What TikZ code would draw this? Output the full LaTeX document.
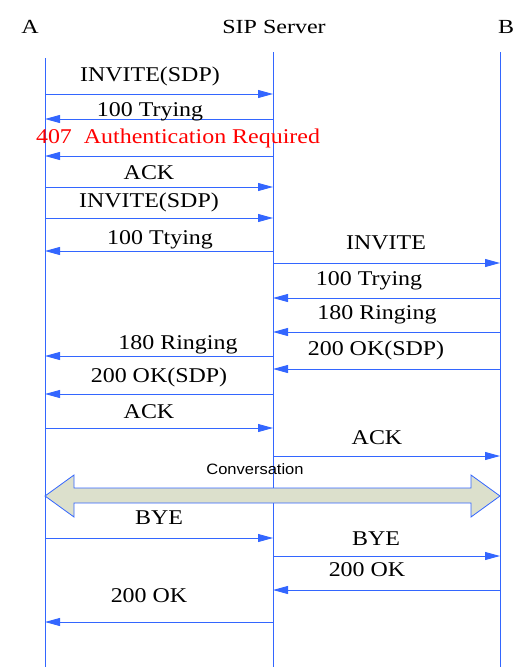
\documentclass[tikz,border=0pt]{standalone}
\usepackage{fontspec}
\setmainfont{Liberation Serif}
\newfontfamily\convfont{Liberation Sans}
\definecolor{sipblue}{RGB}{51,102,255}
\definecolor{sipred}{RGB}{255,0,0}
\definecolor{sipsage}{RGB}{220,224,204}
\usetikzlibrary{arrows.meta}

\begin{document}
\begin{tikzpicture}[x=1pt,y=-1pt,
  lifeline/.style={sipblue,line width=0.9pt},
  msg/.style={sipblue,line width=0.9pt,-{Triangle[length=15pt,width=8pt]}},
  lbl/.style={anchor=base,inner sep=0pt,font=\fontsize{21}{24}\selectfont,
              xscale=1.14,transform shape},
  hdr/.style={anchor=base,inner sep=0pt,font=\fontsize{20}{24}\selectfont,
              xscale=1.2,transform shape}]
  \useasboundingbox (0,0) rectangle (525,667);

  % Headers
  \node[hdr] (hA) at (30,33) {A};
  \node[hdr] (hS) at (274,33) {SIP Server};
  \node[hdr] (hB) at (506,33) {B};

  % Lifelines
  \coordinate (aTop) at (45,58);
  \coordinate (aBot) at (45,667);
  \coordinate (sTop) at (273,52);
  \coordinate (sBot) at (273,667);
  \coordinate (bTop) at (500,52);
  \coordinate (bBot) at (500,667);
  \draw[lifeline] (aTop) -- (aBot);
  \draw[lifeline] (sTop) -- (sBot);
  \draw[lifeline] (bTop) -- (bBot);

  % First INVITE, challenged by the server
  \draw[msg] (aTop |- 0,94) -- (sTop |- 0,94);
  \node[lbl] (m1) at (150,81) {INVITE(SDP)};
  \draw[msg] (sTop |- 0,119) -- (aTop |- 0,119);
  \node[lbl] (m2) at (150,116) {100 Trying};
  \draw[msg] (sTop |- 0,156) -- (aTop |- 0,156);
  \node[lbl,text=sipred] (m3) at (178,143) {407\ \ Authentication Required};
  \draw[msg] (aTop |- 0,187) -- (sTop |- 0,187);
  \node[lbl] (m4) at (149,179) {ACK};

  % Second INVITE, forwarded to B
  \draw[msg] (aTop |- 0,218) -- (sTop |- 0,218);
  \node[lbl] (m5) at (149,207) {INVITE(SDP)};
  \draw[msg] (sTop |- 0,251) -- (aTop |- 0,251);
  \node[lbl] (m6) at (160,244) {100 Ttying};
  \draw[msg] (sTop |- 0,263) -- (bTop |- 0,263);
  \node[lbl] (m7) at (386,249) {INVITE};
  \draw[msg] (bTop |- 0,298) -- (sTop |- 0,298);
  \node[lbl] (m8) at (369,285) {100 Trying};
  \draw[msg] (bTop |- 0,332) -- (sTop |- 0,332);
  \node[lbl] (m9) at (377,319) {180 Ringing};
  \draw[msg] (sTop |- 0,356) -- (aTop |- 0,356);
  \node[lbl] (m10) at (178,349) {180 Ringing};
  \draw[msg] (bTop |- 0,369) -- (sTop |- 0,369);
  \node[lbl] (m11) at (376,355) {200 OK(SDP)};
  \draw[msg] (sTop |- 0,394) -- (aTop |- 0,394);
  \node[lbl] (m12) at (159,382) {200 OK(SDP)};
  \draw[msg] (aTop |- 0,428) -- (sTop |- 0,428);
  \node[lbl] (m13) at (149,418) {ACK};
  \draw[msg] (sTop |- 0,456) -- (bTop |- 0,456);
  \node[lbl] (m14) at (377,444) {ACK};

  % Conversation (double arrow over the server line)
  \node[anchor=base,inner sep=0pt,font=\convfont\fontsize{15}{18}\selectfont,
        xscale=1.1,transform shape] (talk) at (255,474) {Conversation};
  \draw[sipblue,fill=sipsage,line width=0.8pt]
        (45,496) -- (74,475) -- (74,488) -- (471,488) -- (471,475) -- (500,496)
        -- (471,517) -- (471,503) -- (74,503) -- (74,517) -- cycle;

  % Release
  \draw[msg] (aTop |- 0,538) -- (sTop |- 0,538);
  \node[lbl] (m15) at (159,524) {BYE};
  \draw[msg] (sTop |- 0,556) -- (bTop |- 0,556);
  \node[lbl] (m16) at (376,545) {BYE};
  \draw[msg] (bTop |- 0,590) -- (sTop |- 0,590);
  \node[lbl] (m17) at (367,576) {200 OK};
  \draw[msg] (sTop |- 0,622) -- (aTop |- 0,622);
  \node[lbl] (m18) at (149,602) {200 OK};
\end{tikzpicture}
\end{document}
